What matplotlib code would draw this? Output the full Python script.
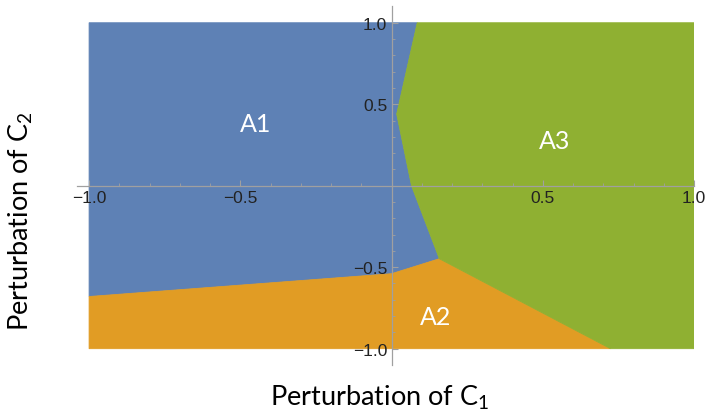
import matplotlib.pyplot as plt
import numpy as np

plt.rcParams['font.family'] = ['Lato', 'DejaVu Sans']
plt.rcParams['mathtext.fontset'] = 'custom'
plt.rcParams['mathtext.rm'] = 'Lato'
plt.rcParams['mathtext.default'] = 'rm'

# boundary vertices (C1 perturbation, C2 perturbation)
a1_a3_x = [0.085, 0.017, 0.066, 0.158]
a1_a3_y = [1.0, 0.44, 0.0, -0.448]
a1_a2_x = [-1.0, 0.0, 0.158]
a1_a2_y = [-0.68, -0.54, -0.448]
a2_a3_x = [0.158, 0.724]
a2_a3_y = [-0.448, -1.0]

region_names = ["A1", "A2", "A3"]
region_label_x = [-0.45, 0.145, 0.54]
region_label_y = [0.38, -0.80, 0.28]
region_colors = ["#5E81B5", "#E19C24", "#8FB032"]

tick_values = [-1.0, -0.5, 0.5, 1.0]
tick_labels = ["\u22121.0", "\u22120.5", "0.5", "1.0"]

# build the three polygons from the boundaries
blue_x = [-1.0] + a1_a3_x + a1_a2_x[::-1][:-1] + [-1.0]
blue_y = [1.0] + a1_a3_y + a1_a2_y[::-1][:-1] + [a1_a2_y[0]]
orange_x = a1_a2_x + [a2_a3_x[1], -1.0]
orange_y = a1_a2_y + [a2_a3_y[1], -1.0]
green_x = a1_a3_x + [a2_a3_x[1], 1.0, 1.0]
green_y = a1_a3_y + [a2_a3_y[1], -1.0, 1.0]

fig = plt.figure(figsize=(7.07, 4.14), dpi=100)
ax = fig.add_axes([0.1089, 0.116, 0.8727, 0.866])

for px, py, col in zip([blue_x, orange_x, green_x], [blue_y, orange_y, green_y], region_colors):
    ax.fill(px, py, color=col, lw=0.6, ec=col, zorder=1)

for name, lx, ly in zip(region_names, region_label_x, region_label_y):
    ax.text(lx, ly, name, color="white", fontsize=18, ha="center", va="center", zorder=3)

ax.set_xlim(-1.04, 1.0)
ax.set_ylim(-1.1, 1.1)

for s in ["top", "right"]:
    ax.spines[s].set_visible(False)
ax.spines["left"].set_position(("data", 0))
ax.spines["bottom"].set_position(("data", 0))
for s in ["left", "bottom"]:
    ax.spines[s].set_color("#a0a0a0")
    ax.spines[s].set_linewidth(0.9)
    ax.spines[s].set_zorder(2.5)

ax.set_xticks(tick_values)
ax.set_yticks(tick_values)
ax.set_xticklabels(tick_labels, family="Liberation Sans", fontsize=12.5)
ax.set_yticklabels(tick_labels, family="Liberation Sans", fontsize=12.5)
minor = [v for v in np.round(np.arange(-1.0, 1.01, 0.1), 2) if v not in tick_values and v != 0]
ax.set_xticks(minor, minor=True)
ax.set_yticks(minor, minor=True)
ax.tick_params(which="major", direction="in", length=4.5, width=0.8, color="#a0a0a0",
               labelcolor="#222222", pad=3)
ax.tick_params(which="minor", direction="in", length=2.5, width=0.6, color="#a0a0a0")
ax.set_facecolor("none")

fig.text(0.537, 0.04, "Perturbation of C$_1$", fontsize=19.5, ha="center", va="center")
fig.text(0.03, 0.465, "Perturbation of C$_2$", fontsize=19.5, ha="center", va="center", rotation=90)

fig.savefig("out.png", dpi=100)
